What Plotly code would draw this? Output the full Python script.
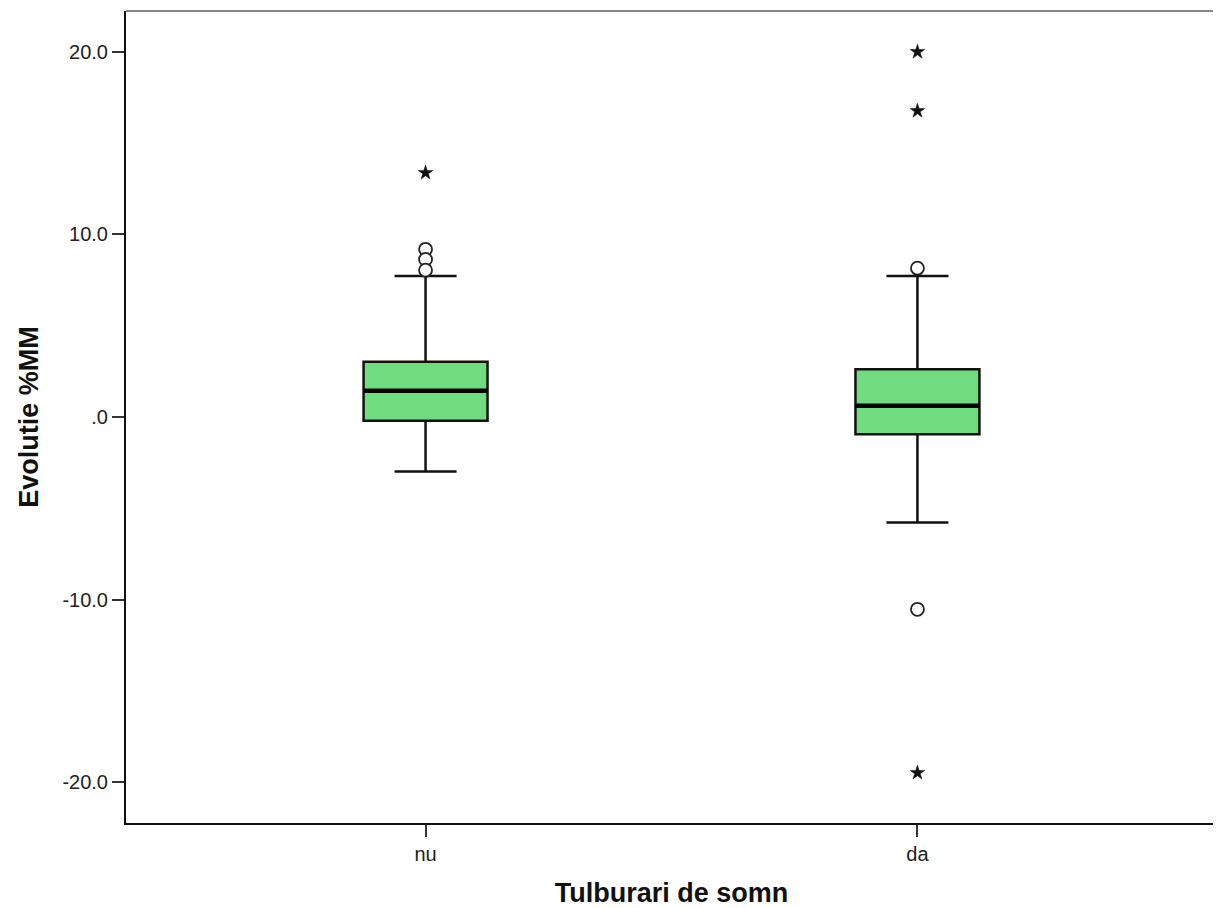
import plotly.graph_objects as go

categories = ["nu", "da"]
q1 = [-0.20, -0.95]
median = [1.44, 0.62]
q3 = [3.03, 2.61]
lower_fence = [-2.99, -5.78]
upper_fence = [7.72, 7.72]
# outliers (circles) and extremes (stars)
circle_outliers = [[9.18, 8.63, 8.04], [8.15, -10.53]]
star_outliers = [[13.37], [19.99, 16.76, -19.48]]

tick_vals_y = [-20, -10, 0, 10, 20]
tick_text_y = ["-20.0", "-10.0", ".0", "10.0", "20.0"]

BOX_W = 0.252
FILL = "#6FDC80"

fig = go.Figure()
for i, cat in enumerate(categories):
    fig.add_trace(go.Box(
        x=[i], q1=[q1[i]], median=[median[i]], q3=[q3[i]],
        lowerfence=[lower_fence[i]], upperfence=[upper_fence[i]],
        width=BOX_W, whiskerwidth=0.5, fillcolor=FILL,
        line=dict(color="#111111", width=2.5),
        boxpoints=False, showlegend=False, hoverinfo="skip",
    ))
    # thick median line
    fig.add_trace(go.Scatter(
        x=[i - BOX_W / 2, i + BOX_W / 2], y=[median[i], median[i]],
        mode="lines", line=dict(color="#000000", width=4.5),
        showlegend=False, hoverinfo="skip",
    ))
    fig.add_trace(go.Scatter(
        x=[i] * len(circle_outliers[i]), y=circle_outliers[i], mode="markers",
        marker=dict(symbol="circle", size=13, color="white",
                    line=dict(color="#222222", width=1.8)),
        showlegend=False, hoverinfo="skip",
    ))
    fig.add_trace(go.Scatter(
        x=[i] * len(star_outliers[i]), y=star_outliers[i], mode="markers",
        marker=dict(symbol="star", size=11, color="#111111",
                    line=dict(color="#111111", width=0.5)),
        showlegend=False, hoverinfo="skip",
    ))

fig.update_layout(
    width=1213, height=900,
    margin=dict(l=118, r=4, t=3, b=85),
    paper_bgcolor="white", plot_bgcolor="white",
    font=dict(family="Liberation Sans, Arial, sans-serif", color="#222222"),
    xaxis=dict(
        range=[-0.609, 1.609], tickvals=[0, 1], ticktext=categories,
        showgrid=False, zeroline=False, showline=True, linecolor="#111111",
        linewidth=2, ticks="outside", ticklen=12, tickwidth=2, tickcolor="#333333",
        tickfont=dict(size=20, color="#222222"),
        title=dict(text="<b>Tulburari de somn</b>", standoff=20,
                   font=dict(size=27, color="#111111")),
    ),
    yaxis=dict(
        range=[-22.23, 22.23], tickvals=tick_vals_y, ticktext=tick_text_y,
        showgrid=False, zeroline=False, showline=True, linecolor="#111111",
        linewidth=2, ticks="outside", ticklen=12, tickwidth=2, tickcolor="#333333",
        tickfont=dict(size=20, color="#222222"),
        title=dict(text="<b>Evolutie %MM</b>", standoff=16,
                   font=dict(size=27, color="#111111")),
    ),
    shapes=[
        dict(type="line", xref="paper", yref="paper", x0=0, x1=1, y0=1, y1=1,
             line=dict(color="#888888", width=2)),
        dict(type="line", xref="paper", yref="paper", x0=1, x1=1, y0=0, y1=1,
             line=dict(color="#777777", width=2)),
    ],
)

fig.write_html("out.html")
